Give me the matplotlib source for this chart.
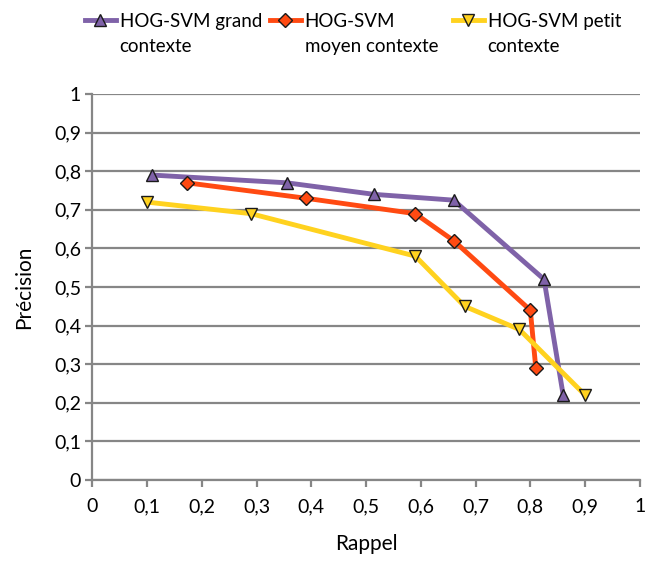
import matplotlib
matplotlib.use("Agg")
import matplotlib.pyplot as plt
from matplotlib.ticker import FuncFormatter

plt.rcParams['font.family'] = ['Lato', 'DejaVu Sans']

labels = ["HOG-SVM grand\ncontexte", "HOG-SVM\nmoyen contexte", "HOG-SVM petit\ncontexte"]
grand_x = [0.11, 0.355, 0.515, 0.66, 0.825, 0.86]
grand_y = [0.79, 0.77, 0.74, 0.725, 0.52, 0.22]
moyen_x = [0.173, 0.39, 0.59, 0.66, 0.80, 0.81]
moyen_y = [0.77, 0.73, 0.69, 0.62, 0.44, 0.29]
petit_x = [0.10, 0.29, 0.59, 0.68, 0.78, 0.90]
petit_y = [0.72, 0.69, 0.58, 0.45, 0.39, 0.22]
ticks = [0, 0.1, 0.2, 0.3, 0.4, 0.5, 0.6, 0.7, 0.8, 0.9, 1]
colors = ["#7F62A8", "#FF4A12", "#FFD21F"]

fig = plt.figure(figsize=(6.45, 5.61), dpi=100)
ax = fig.add_axes([0.143, 0.1444, 0.849, 0.688])

series = [(grand_x, grand_y, "^", 9), (moyen_x, moyen_y, "D", 7), (petit_x, petit_y, "v", 9)]
handles = []
for (xs, ys, m, ms), c, lab in zip(series, colors, labels):
    h, = ax.plot(xs, ys, color=c, lw=3.5, marker=m, markersize=ms,
                 markerfacecolor=c, markeredgecolor="#1a1a1a", markeredgewidth=1.0,
                 label=lab, zorder=3, clip_on=False)
    handles.append(h)

ax.set_xlim(0, 1)
ax.set_ylim(0, 1)
ax.set_xticks(ticks)
ax.set_yticks(ticks)
fmt = FuncFormatter(lambda v, p: ("%g" % v).replace(".", ","))
ax.xaxis.set_major_formatter(fmt)
ax.yaxis.set_major_formatter(fmt)
ax.grid(axis="y", color="#868686", lw=1.6)
ax.set_axisbelow(True)
for s in ["top", "right"]:
    ax.spines[s].set_visible(False)
for s in ["left", "bottom"]:
    ax.spines[s].set_color("#868686")
    ax.spines[s].set_linewidth(1.6)
ax.tick_params(axis="both", colors="#868686", labelcolor="black", labelsize=14,
               length=5, width=1.6, direction="out")
ax.tick_params(axis="x", pad=8)
ax.tick_params(axis="y", pad=3)
ax.set_xlabel("Rappel", fontsize=15, labelpad=14)
ax.set_ylabel("Précision", fontsize=15, labelpad=14)

anchors = [85, 270, 453]
for h, lab, xa in zip(handles, labels, anchors):
    leg = fig.legend(handles=[h], labels=[lab], loc="upper left",
                     bbox_to_anchor=(xa / 645, 1 - 13 / 561), frameon=False,
                     fontsize=13.5, handlelength=1.65, handletextpad=0.2,
                     borderpad=0, borderaxespad=0)
    for t in leg.get_texts():
        t.set_linespacing(1.55)
    try:
        for col in leg._legend_handle_box.get_children():
            for item in col.get_children():
                item.align = "top"
    except Exception:
        pass

fig.savefig("out.png", dpi=100)
